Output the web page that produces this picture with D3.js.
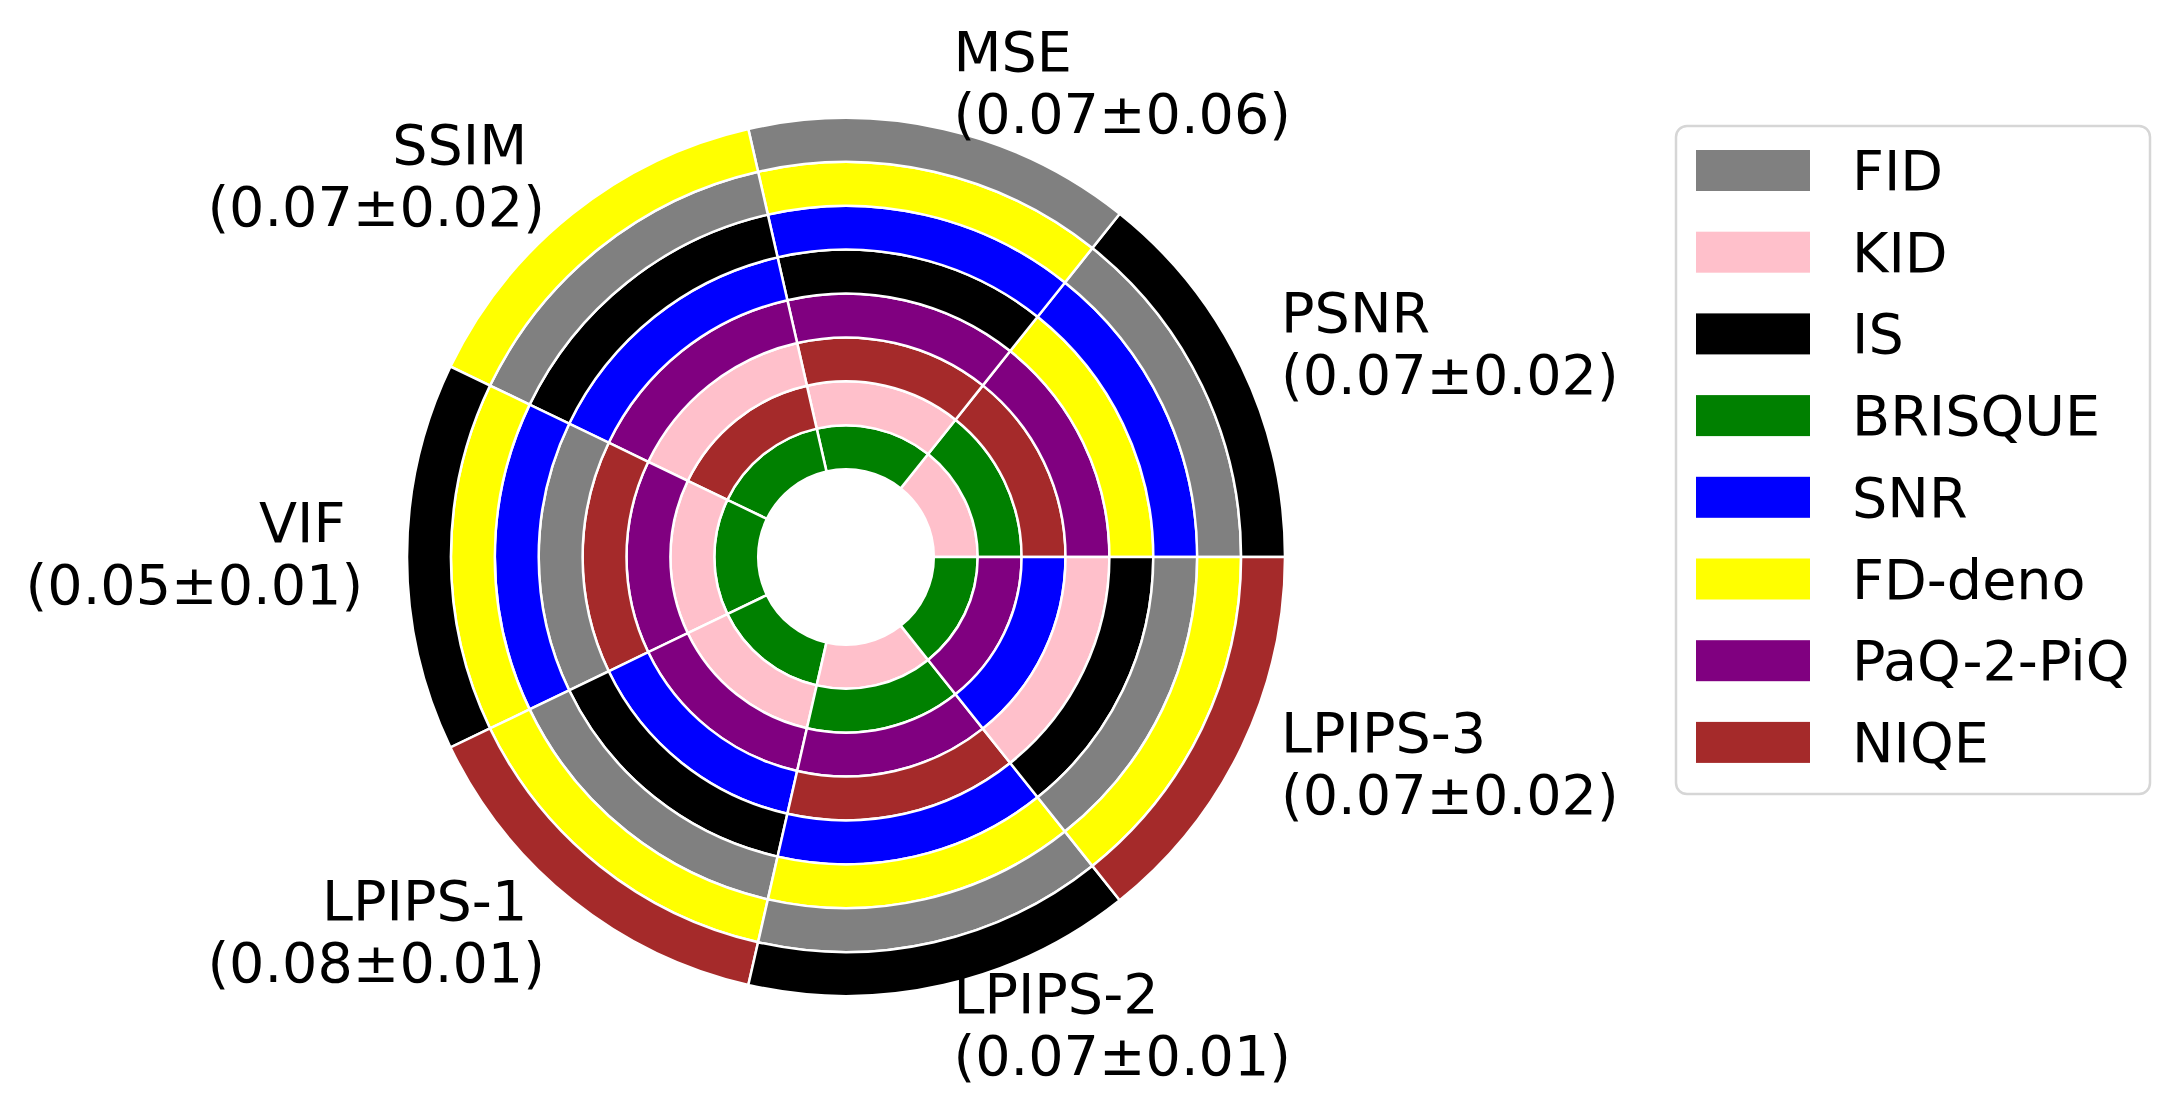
<!DOCTYPE html>
<html>
<head>
<meta charset="utf-8">
<script src="https://cdn.jsdelivr.net/npm/d3@7"></script>
<style>
  html, body { margin: 0; padding: 0; background: #ffffff; }
  svg { display: block; }
  text { font-family: "DejaVu Sans", sans-serif; fill: #000; }
</style>
</head>
<body>
<div id="chart"></div>
<script>
// ---- data ----
const sectors = ["PSNR", "MSE", "SSIM", "VIF", "LPIPS-1", "LPIPS-2", "LPIPS-3"];
const means = [0.07, 0.07, 0.07, 0.05, 0.08, 0.07, 0.07];
const stds  = [0.02, 0.06, 0.02, 0.01, 0.01, 0.01, 0.02];

const metrics = ["FID", "KID", "IS", "BRISQUE", "SNR", "FD-deno", "PaQ-2-PiQ", "NIQE"];
const metricColors = ["gray", "pink", "black", "green", "blue", "yellow", "purple", "brown"];

// ring order per sector, innermost ring first
const orderPSNR   = ["KID", "BRISQUE", "NIQE", "PaQ-2-PiQ", "FD-deno", "SNR", "FID", "IS"];
const orderMSE    = ["BRISQUE", "KID", "NIQE", "PaQ-2-PiQ", "IS", "SNR", "FD-deno", "FID"];
const orderSSIM   = ["BRISQUE", "NIQE", "KID", "PaQ-2-PiQ", "SNR", "IS", "FID", "FD-deno"];
const orderVIF    = ["BRISQUE", "KID", "PaQ-2-PiQ", "NIQE", "FID", "SNR", "FD-deno", "IS"];
const orderLPIPS1 = ["BRISQUE", "KID", "PaQ-2-PiQ", "SNR", "IS", "FID", "FD-deno", "NIQE"];
const orderLPIPS2 = ["KID", "BRISQUE", "PaQ-2-PiQ", "NIQE", "SNR", "FD-deno", "FID", "IS"];
const orderLPIPS3 = ["BRISQUE", "PaQ-2-PiQ", "SNR", "KID", "IS", "FID", "FD-deno", "NIQE"];
const ringOrders = [orderPSNR, orderMSE, orderSSIM, orderVIF, orderLPIPS1, orderLPIPS2, orderLPIPS3];

// ---- layout ----
const W = 2184, H = 1114;
const cx = 846, cy = 557, R = 439;
const fontPx = 55.6;

const svg = d3.select("#chart").append("svg")
  .attr("width", W).attr("height", H)
  .attr("viewBox", `0 0 ${W} ${H}`);

const color = d3.scaleOrdinal().domain(metrics).range(metricColors);
const radius = d3.scaleLinear().domain([0, 10]).range([0, R]);

const pie = d3.pie().value(() => 1).sort(null)
  .startAngle(Math.PI / 2).endAngle(Math.PI / 2 - 2 * Math.PI);
const slices = pie(sectors);

const g = svg.append("g").attr("transform", `translate(${cx},${cy})`);

const nRings = metrics.length;
for (let ring = 0; ring < nRings; ring++) {
  const arc = d3.arc().innerRadius(radius(2 + ring)).outerRadius(radius(3 + ring));
  g.append("g").selectAll("path")
    .data(slices)
    .join("path")
    .attr("d", arc)
    .attr("fill", (d, i) => color(ringOrders[i][ring]))
    .attr("stroke", "#ffffff")
    .attr("stroke-width", 2.5)
    .attr("stroke-linejoin", "miter");
}

// ---- sector labels ----
const labelR = radius(11);
slices.forEach((d, i) => {
  const a = (d.startAngle + d.endAngle) / 2;
  const lx = labelR * Math.sin(a);
  const ly = -labelR * Math.cos(a);
  const right = lx >= 0;
  const t = g.append("text")
    .attr("font-size", fontPx)
    .attr("text-anchor", right ? "start" : "end");
  t.append("tspan")
    .attr("x", right ? lx : lx - 0.318 * fontPx)
    .attr("y", ly - 15)
    .text(sectors[i]);
  t.append("tspan")
    .attr("x", lx)
    .attr("y", ly + 47)
    .text(`(${means[i].toFixed(2)}±${stds[i].toFixed(2)})`);
});

// ---- legend ----
const legend = svg.append("g");
legend.append("rect")
  .attr("x", 1676).attr("y", 126)
  .attr("width", 474).attr("height", 668)
  .attr("rx", 11).attr("ry", 11)
  .attr("fill", "#ffffff")
  .attr("stroke", "#d6d6d6")
  .attr("stroke-width", 2.5);

const rowY = d3.scaleLinear().domain([0, 1]).range([170.5, 252.2]);
const items = legend.selectAll("g.item")
  .data(metrics)
  .join("g")
  .attr("class", "item")
  .attr("transform", (d, i) => `translate(0,${rowY(i)})`);
items.append("rect")
  .attr("x", 1696).attr("y", -20.5)
  .attr("width", 114).attr("height", 41)
  .attr("fill", d => color(d));
items.append("text")
  .attr("x", 1852).attr("y", 19.5)
  .attr("font-size", fontPx)
  .text(d => d);
</script>
</body>
</html>
